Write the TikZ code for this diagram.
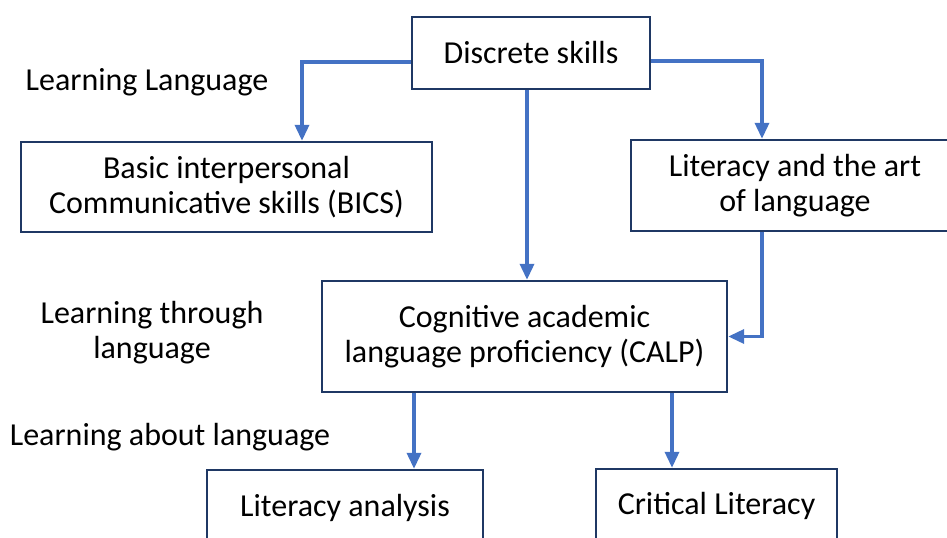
\documentclass[tikz,border=0pt]{standalone}
\usepackage{fontspec}
\setmainfont{Carlito}
\usetikzlibrary{arrows.meta,calc}
\definecolor{boxline}{HTML}{1F3864}
\definecolor{arrowblue}{HTML}{4472C4}

\begin{document}
\begin{tikzpicture}[x=0.5pt,y=-0.5pt,>={Triangle[length=8pt,width=7pt]},
  skillbox/.style={draw=boxline,line width=1.2pt,align=center,inner sep=0pt,font=\fontsize{16}{17.5}\selectfont},
  tag/.style={align=center,font=\fontsize{16}{17.5}\selectfont},
  link/.style={->,draw=arrowblue,line width=1.7pt}]
\useasboundingbox (0,0) rectangle (947,537);

% boxes
\node[skillbox,minimum width=119pt,minimum height=36pt] (disc) at (531,53) {Discrete skills};
\node[skillbox,minimum width=205.5pt,minimum height=45pt] (bics) at (226.5,187) {Basic interpersonal\\Communicative skills (BICS)};
\node[skillbox,minimum width=164pt,minimum height=45.5pt] (art) at (795,185.5) {Literacy and the art\\of language};
\node[skillbox,minimum width=202.5pt,minimum height=55.5pt] (calp) at (524.5,336.5) {Cognitive academic\\language proficiency (CALP)};
\node[skillbox,minimum width=138pt,minimum height=37.5pt] (litan) at (345,507.5) {Literacy analysis};
\node[skillbox,minimum width=120.5pt,minimum height=37pt] (crit) at (716.5,506) {Critical Literacy};

% side labels
\node[tag,anchor=base] (lang) at (147,90) {Learning Language};
\node[tag] (through) at (152,333) {Learning through\\language};
\node[tag,anchor=base] (about) at (170,445) {Learning about language};

% arrows
\draw[link] ($(disc.west)+(0,9)$) -| ($(bics.north)+(75.5,0)$);
\draw[link] ($(disc.east)+(0,8)$) -| ($(art.north)+(-33,0)$);
\draw[link] ($(disc.south)+(-4,0)$) -- ($(calp.north)+(2.5,0)$);
\draw[link] ($(art.south)+(-33,0)$) |- (calp.east);
\draw[link] ($(calp.south)+(-110.5,0)$) -- ($(litan.north)+(69,0)$);
\draw[link] ($(calp.south)+(147.5,0)$) -- ($(crit.north)+(-44.5,0)$);

\end{tikzpicture}
\end{document}
